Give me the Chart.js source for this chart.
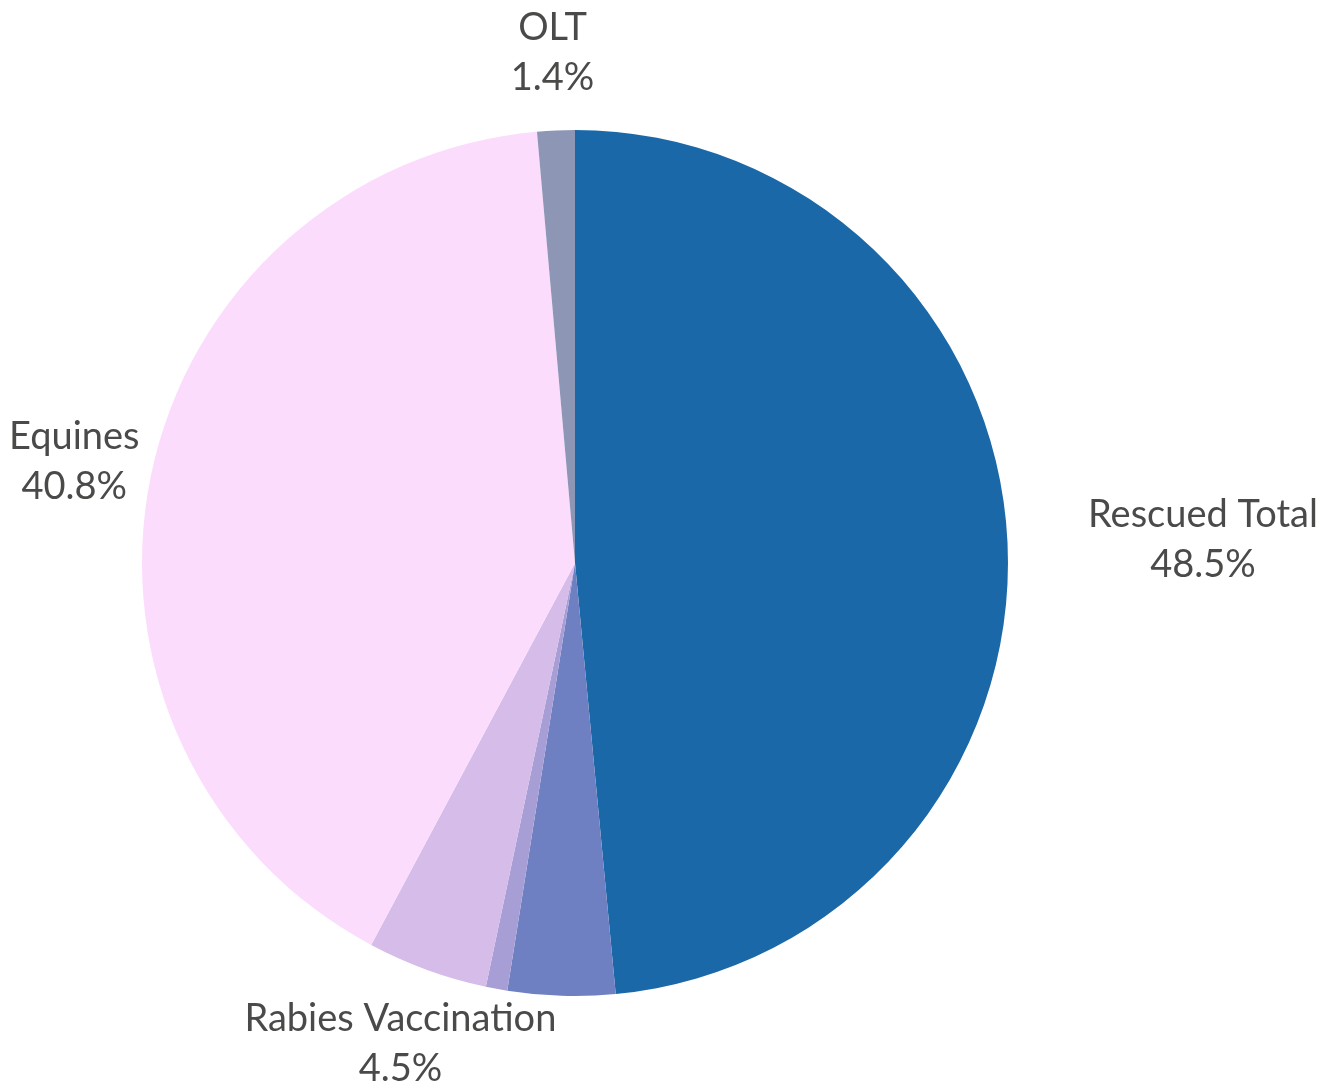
<!DOCTYPE html>
<html>
<head>
<meta charset="utf-8">
<script src="https://cdn.jsdelivr.net/npm/chart.js"></script>
<style>
  html, body { margin: 0; padding: 0; background: #ffffff; }
  #wrap { position: relative; width: 1336px; height: 1089px; }
</style>
</head>
<body>
<div id="wrap"><canvas id="chart"></canvas></div>
<script>
// slice names (two small slices carry no label in the picture)
const categories = ['Rescued Total', '', '', 'Rabies Vaccination', 'Equines', 'OLT'];
// percentage shares
const shares = [48.5, 4.0, 0.8, 4.5, 40.8, 1.4];
// which slices get an outside label
const showLabel = [true, false, false, true, true, true];
const sliceColors = ['#1b68a9', '#6e80c1', '#a89ed6', '#d5bce9', '#fcdcfd', '#8e96b6'];

// outside labels: name + percent, centered along the slice's mid angle
const outsideLabels = {
  id: 'outsideLabels',
  afterDatasetsDraw(chart) {
    const ctx = chart.ctx;
    const meta = chart.getDatasetMeta(0);
    ctx.save();
    ctx.font = '38px Lato';
    ctx.fillStyle = '#4a4a48';
    ctx.textAlign = 'center';
    ctx.textBaseline = 'alphabetic';
    const lineGap = 50;
    meta.data.forEach((arc, i) => {
      if (!showLabel[i]) return;
      const p = arc.getProps(['x', 'y', 'startAngle', 'endAngle', 'outerRadius'], true);
      const mid = (p.startAngle + p.endAngle) / 2;
      const r = p.outerRadius;
      const lines = [categories[i], shares[i].toFixed(1) + '%'];
      const w = Math.max(...lines.map(t => ctx.measureText(t).width));
      const halfH = 40;
      let cx = p.x + Math.cos(mid) * (r + 78);
      let cy = p.y + Math.sin(mid) * (r + 78);
      // push sideways when the text box would run into the pie
      const nearX = Math.max(cx - w / 2, Math.min(p.x, cx + w / 2));
      const nearY = Math.max(cy - halfH, Math.min(p.y, cy + halfH));
      if (Math.hypot(nearX - p.x, nearY - p.y) < r) {
        if (cx >= p.x) cx = p.x + r + 80 + w / 2;
        else cx = p.x - r - 80 - w / 2;
      }
      ctx.fillText(lines[0], cx, cy - 12);
      ctx.fillText(lines[1], cx, cy - 12 + lineGap);
    });
    ctx.restore();
  }
};

new Chart(document.getElementById('chart'), {
  type: 'pie',
  data: {
    labels: categories,
    datasets: [{
      data: shares,
      backgroundColor: sliceColors,
      borderWidth: 0
    }]
  },
  options: {
    responsive: true,
    maintainAspectRatio: false,
    animation: false,
    layout: { padding: { left: 142, right: 328, top: 130, bottom: 93 } },
    plugins: {
      legend: { display: false },
      tooltip: { enabled: false }
    }
  },
  plugins: [outsideLabels]
});
</script>
</body>
</html>
